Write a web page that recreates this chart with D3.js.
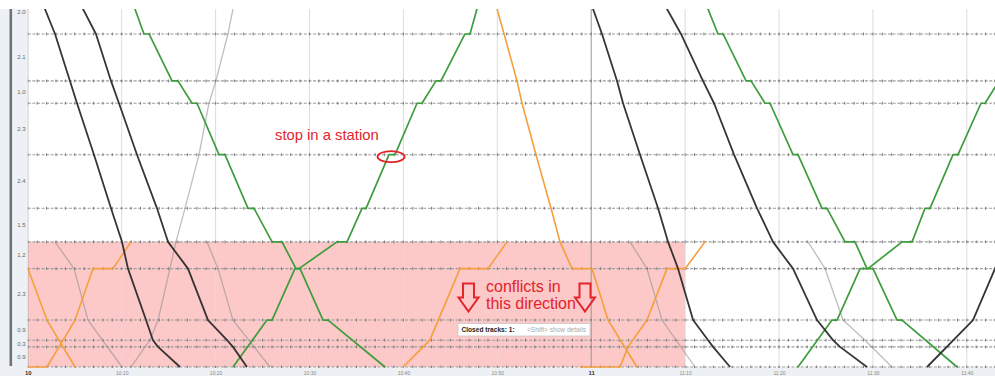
<!DOCTYPE html>
<html>
<head>
<meta charset="utf-8">
<script src="https://cdn.jsdelivr.net/npm/d3@7"></script>
<style>
  html, body { margin: 0; padding: 0; background: #fff; }
  svg { display: block; font-family: "Liberation Sans", Arial, sans-serif; }
</style>
</head>
<body>
<div id="chart"></div>
<script>
// stations along the line, km from the lower terminus
const stationKm = [0, 0.9, 1.2, 2.1, 4.4, 5.6, 7.1, 9.5, 11.8, 12.8, 14.9, 16.9]

// time window shown, minutes after 10:00
const timeSpan = [0, 103]
// closed section: 10:00 - 11:10, km 0 - 5.6
const closedTime = [0, 70]
const closedKm = [0, 5.6]

// train paths: [minutes after 10:00, km]
const blackA = [[0.98, 16.9], [2.9, 14.9], [4.49, 12.8], [5.24, 11.8], [7.05, 9.5], [8.86, 7.1], [10.03, 5.6], [10.67, 4.4], [12.59, 2.1], [13.33, 1.2], [13.87, 0.9], [16.21, 0]]
const blackB = [[4.79, 16.9], [7.26, 14.9], [8.86, 12.8], [9.71, 11.8], [11.63, 9.5], [13.76, 7.1], [14.93, 5.6], [17.06, 4.4], [19.19, 2.1], [21.22, 1.2], [21.85, 0.9], [23.34, 0]]
const blackG = [[59.44, 16.9], [61.15, 14.9], [62.75, 12.8], [63.39, 11.8], [65.2, 9.5], [67.12, 7.1], [68.18, 5.6], [69.25, 4.4], [70.85, 2.1], [72.45, 1.2], [72.98, 0.9], [74.79, 0]]
const blackH = [[66.9, 16.9], [69.56, 14.9], [71.9, 12.8], [73.08, 11.8], [75.21, 9.5], [77.66, 7.1], [79.36, 5.6], [81.49, 4.4], [84.05, 2.1], [85.75, 1.2], [86.5, 0.9], [89.37, 0]]
const blackI = [[95.76, 0], [100.66, 2.1], [103.0, 4.4], [104.17, 5.6]]

const grayC = [[11.0, 0], [12.48, 0.9], [13.01, 1.2], [13.87, 2.1], [15.14, 4.4], [15.78, 5.6], [16.74, 7.1], [18.23, 9.5], [19.29, 11.8], [20.03, 12.8], [21.31, 14.9], [22.28, 16.9]]
const grayD = [[2.9, 5.6], [4.92, 4.4], [6.41, 2.1], [10.03, 0]]
const grayE = [[19.08, 5.6], [20.26, 4.4], [21.85, 2.1], [25.79, 0]]
const grayF = [[64.13, 5.6], [65.94, 4.4], [67.54, 2.1], [71.05, 0]]
const grayJ = [[83.09, 5.6], [84.9, 4.4], [86.82, 2.1], [89.16, 1.2], [92.03, 0]]

const orange1 = [[-2, 4.4], [0.02, 4.4], [2.04, 2.1], [5.03, 0]]
const orange2 = [[-2, 0], [2.04, 0], [5.03, 2.1], [6.94, 4.4], [9.07, 4.4], [10.99, 5.6]]
const orange3 = [[49.38, 16.9], [50.72, 14.9], [52.1, 12.8], [52.63, 11.8], [54.12, 9.5], [55.72, 7.1], [56.68, 5.6], [57.96, 4.4], [60.09, 4.4], [61.79, 2.1], [64.88, 0]]
const orange4 = [[58.81, 0], [63.07, 0], [63.92, 0.9], [65.94, 2.1], [68.07, 4.4], [70.0, 4.4], [72.12, 5.6]]
const orange5 = [[39.96, 0], [42.82, 1.2], [46.02, 4.4], [49.01, 4.4], [51.03, 5.6]]

const green1 = [[10.66, 16.9], [12.37, 14.9], [12.91, 14.9], [15.36, 12.8], [15.99, 12.8], [17.49, 11.8], [18.02, 11.8], [20.36, 9.5], [21.0, 9.5], [23.45, 7.1], [24.09, 7.1], [26.01, 5.6], [27.07, 5.6], [28.56, 4.4], [28.99, 4.4], [31.44, 2.1], [31.97, 2.1], [38.04, 0]]
const green2 = [[21.85, 0], [25.47, 2.1], [26.01, 2.1], [28.45, 4.4], [28.88, 4.4], [32.93, 5.6], [34.0, 5.6], [35.59, 7.1], [36.02, 7.1], [38.47, 9.5], [39.11, 9.5], [41.45, 11.8], [41.98, 11.8], [43.47, 12.8], [44.0, 12.8], [46.56, 14.9], [47.09, 14.9], [48.42, 16.9]]
const green3 = [[71.6, 16.9], [73.5, 14.9], [74.04, 14.9], [76.49, 12.8], [77.02, 12.8], [78.51, 11.8], [79.04, 11.8], [81.49, 9.5], [82.02, 9.5], [84.58, 7.1], [85.11, 7.1], [87.03, 5.6], [88.09, 5.6], [89.37, 4.4], [90.01, 4.4], [92.57, 2.1], [93.1, 2.1], [98.96, 0]]
const green4 = [[82.02, 0], [85.64, 2.1], [86.18, 2.1], [88.63, 4.4], [89.48, 4.4], [93.1, 5.6], [94.17, 5.6], [95.55, 7.1], [96.08, 7.1], [98.53, 9.5], [99.06, 9.5], [101.51, 11.8], [101.94, 11.8], [103.43, 12.8], [103.96, 12.8]]

const trains = [
  { path: grayC, kind: 'gray' }, { path: grayD, kind: 'gray' }, { path: grayE, kind: 'gray' },
  { path: grayF, kind: 'gray' }, { path: grayJ, kind: 'gray' },
  { path: orange1, kind: 'orange' }, { path: orange2, kind: 'orange' }, { path: orange3, kind: 'orange' },
  { path: orange4, kind: 'orange' }, { path: orange5, kind: 'orange' },
  { path: green1, kind: 'green' }, { path: green2, kind: 'green' }, { path: green3, kind: 'green' },
  { path: green4, kind: 'green' },
  { path: blackA, kind: 'black' }, { path: blackB, kind: 'black' }, { path: blackG, kind: 'black' },
  { path: blackH, kind: 'black' }, { path: blackI, kind: 'black' }
]

const STYLE = {
  black: { stroke: '#2b2b2b', width: 1.8, opacity: 0.95 },
  gray: { stroke: '#8a8a8a', width: 1.3, opacity: 0.55 },
  orange: { stroke: '#f5a03c', width: 1.6, opacity: 1 },
  green: { stroke: '#3d9d3d', width: 1.7, opacity: 1 }
}

const width = 995
const height = 376
const plot = { left: 27.8, right: 995, top: 9, bottom: 367 }

const base = new Date(2020, 0, 1, 10, 0, 0)
const at = m => new Date(base.getTime() + m * 60000)

const x = d3.scaleTime().domain(timeSpan.map(at)).range([plot.left, plot.right])
const y = d3.scaleLinear().domain([0, 16.9]).range([plot.bottom, plot.bottom - 16.9 * 22.35])

const svg = d3.select('#chart').append('svg')
  .attr('width', width).attr('height', height)

// left distance panel and bottom time strip
svg.append('rect').attr('x', 0).attr('y', plot.top).attr('width', plot.left).attr('height', height - plot.top).attr('fill', '#edf1f6')
svg.append('rect').attr('x', 0).attr('y', plot.bottom + 0.5).attr('width', width).attr('height', height - plot.bottom).attr('fill', '#edf1f6')
svg.append('rect').attr('x', 9.5).attr('y', plot.top).attr('width', 2.6).attr('height', plot.bottom - plot.top - 1).attr('fill', '#6e737a')

svg.append('defs').append('clipPath').attr('id', 'plotClip')
  .append('rect').attr('x', plot.left).attr('y', plot.top)
  .attr('width', plot.right - plot.left).attr('height', plot.bottom - plot.top + 1)

const g = svg.append('g').attr('clip-path', 'url(#plotClip)')

// closed tracks block
g.append('rect')
  .attr('x', x(at(closedTime[0]))).attr('y', y(closedKm[1]))
  .attr('width', x(at(closedTime[1])) - x(at(closedTime[0])))
  .attr('height', y(closedKm[0]) - y(closedKm[1]))
  .attr('fill', '#fcc8c8')

// 10 minute grid
const gridTimes = x.ticks(d3.timeMinute.every(10))
g.selectAll('.vgrid').data(gridTimes).join('line')
  .attr('x1', d => x(d)).attr('x2', d => x(d))
  .attr('y1', plot.top).attr('y2', plot.bottom)
  .attr('stroke', d => d.getMinutes() === 0 ? '#9a9a9a' : '#dcdcdc')
  .attr('stroke-width', 1)

// station lines with minute ticks
const minuteTicks = d3.range(timeSpan[0], timeSpan[1] + 1)
stationKm.forEach(km => {
  const sy = y(km)
  g.append('line')
    .attr('x1', plot.left).attr('x2', plot.right).attr('y1', sy).attr('y2', sy)
    .attr('stroke', '#9c9c9c').attr('stroke-width', 1.1).attr('stroke-dasharray', '3,1.6')
  g.selectAll(null).data(minuteTicks).join('line')
    .attr('x1', m => x(at(m))).attr('x2', m => x(at(m)))
    .attr('y1', sy - 1.4).attr('y2', sy + 1.4)
    .attr('stroke', '#7a7a7a').attr('stroke-width', 1)
})

// train paths
const line = d3.line().x(d => x(at(d[0]))).y(d => y(d[1]))
trains.forEach(t => {
  const s = STYLE[t.kind]
  g.append('path').datum(t.path)
    .attr('d', line).attr('fill', 'none')
    .attr('stroke', s.stroke).attr('stroke-width', s.width).attr('stroke-opacity', s.opacity)
    .attr('stroke-linejoin', 'round')
})

// distance labels between stations
const segs = d3.pairs(stationKm)
svg.selectAll('.dist').data(segs).join('text')
  .attr('x', 21.5).attr('y', d => (y(d[0]) + y(d[1])) / 2 + 2)
  .attr('text-anchor', 'middle')
  .style('font-size', '6px').attr('fill', '#666')
  .text(d => (d[1] - d[0]).toFixed(1))

// time axis
const fmt = d => d.getMinutes() === 0 ? d3.timeFormat('%-H')(d) : d3.timeFormat('%-H:%M')(d)
const axis = svg.append('g').attr('transform', `translate(0,${plot.bottom + 1})`)
  .call(d3.axisBottom(x).ticks(d3.timeMinute.every(10)).tickFormat(fmt).tickSize(0).tickPadding(3))
axis.select('.domain').remove()
axis.selectAll('text')
  .style('font-size', d => d.getMinutes() === 0 ? '6px' : '5px')
  .style('font-weight', d => d.getMinutes() === 0 ? 'bold' : 'normal')
  .attr('fill', d => d.getMinutes() === 0 ? '#333' : '#888')
  .style('font-family', '"Liberation Sans", Arial, sans-serif')

// annotations
const red = '#e3242b'
// the stop of green2 at km 9.5
const stopA = green2[9], stopB = green2[10]
svg.append('ellipse')
  .attr('cx', (x(at(stopA[0])) + x(at(stopB[0]))) / 2 - 1).attr('cy', y(stopA[1]) + 2)
  .attr('rx', 13.5).attr('ry', 5.5)
  .attr('fill', 'none').attr('stroke', red).attr('stroke-width', 1.8)
svg.append('text').attr('x', 275).attr('y', 140)
  .attr('fill', red).style('font-size', '14.8px').text('stop in a station')

svg.append('text').attr('x', 486).attr('y', 291.5)
  .attr('fill', red).style('font-size', '16px').text('conflicts in')
svg.append('text').attr('x', 486).attr('y', 309)
  .attr('fill', red).style('font-size', '16px').text('this direction')

const arrow = cx => {
  const top = 283.5, neck = 297.5, tip = 311.5
  return `M${cx - 5.5},${top} L${cx + 5.5},${top} L${cx + 5.5},${neck} L${cx + 10},${neck} L${cx},${tip} L${cx - 10},${neck} L${cx - 5.5},${neck} Z`
}
;[468.5, 585].forEach(cx => {
  svg.append('path').attr('d', arrow(cx))
    .attr('fill', 'none').attr('stroke', red).attr('stroke-width', 2).attr('stroke-linejoin', 'miter')
})

// closed tracks tooltip
const tip = svg.append('g').attr('transform', 'translate(458,323.5)')
tip.append('rect').attr('width', 132).attr('height', 12.5)
  .attr('fill', '#fff').attr('stroke', '#c8c8c8').attr('stroke-width', 0.8)
tip.append('text').attr('x', 3.5).attr('y', 8.8)
  .style('font-size', '6.6px').style('font-weight', 'bold').attr('fill', '#222').text('Closed tracks: 1:')
tip.append('text').attr('x', 69).attr('y', 8.8)
  .style('font-size', '6.6px').attr('fill', '#aaa').text('<Shift> show details')
</script>
</body>
</html>
